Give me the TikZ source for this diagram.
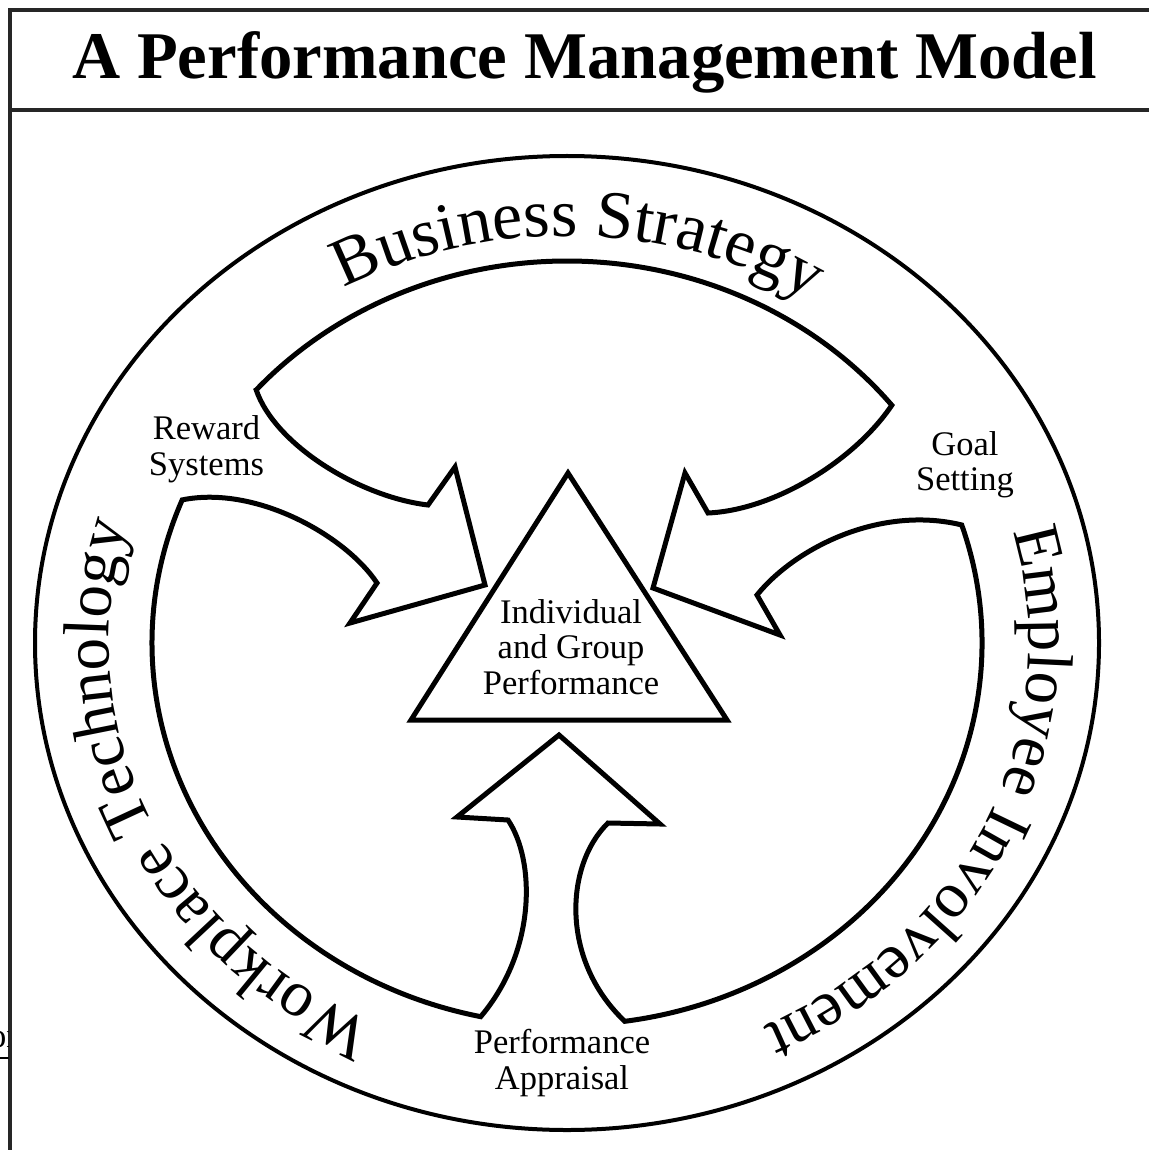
\documentclass[tikz,border=0pt]{standalone}
\usepackage{fontspec}
\setmainfont{Liberation Serif}
\usetikzlibrary{decorations.text}
\newcommand\bigtxt{\fontsize{68}{68}\selectfont}
\newcommand\sidetxt{\fontsize{65}{65}\selectfont}
\newcommand\smalltxt{\fontsize{34.5}{35.5}\selectfont}
\newcommand\titletxt{\fontsize{66.7}{70}\selectfont\bfseries}
\begin{document}
\begin{tikzpicture}[x=1pt,y=-1pt]
\tikzset{
  frameline/.style={line width=3.5pt, draw=black!85},
  ringline/.style={line width=4pt},
  outline/.style={line width=5pt, line join=miter, miter limit=10},
  lbl/.style={font=\smalltxt, align=center, inner sep=0pt},
  curvedtext/.style={decorate, decoration={text along path, text align=center, text={|\bigtxt|#1}}},
  sidetext/.style={decorate, decoration={text along path, text align=center, text={|\sidetxt|#1}}}
}
\useasboundingbox (0,0) rectangle (1148,1150);
% frame
\draw[frameline] (10,1155) -- (10,10) -- (1155,10);
\draw[frameline] (10,110) -- (1155,110);
\node[font=\titletxt, anchor=base, inner sep=0pt] (title) at (584.5,79) {A Performance Management Model};
% outer ring
\draw[ringline] (567,643) ellipse[x radius=532, y radius=487];
% main outline with three inward arrows
\draw[outline]
 (256.2,389.9) .. controls (275,445) and (360,497) .. (428,505)
 -- (455,467) -- (485,585) -- (350,623) -- (377,583)
 .. controls (345,535) and (255,485) .. (182.2,499.9)
 arc[start angle=-158, end angle=-258, x radius=415, y radius=382]
 .. controls (537,950) and (535,860) .. (508,820)
 -- (457,817) -- (559,735) -- (660,824) -- (608,823)
 .. controls (565,865) and (560,960) .. (624.8,1021.3)
 arc[start angle=-278, end angle=-378, x radius=415, y radius=382]
 .. controls (880,505) and (795,548) .. (757,595)
 -- (780,635) -- (653,588) -- (685,473) -- (708,513)
 .. controls (775,510) and (855,460) .. (891.8,405.2)
 arc[start angle=-38.5, end angle=-138.5, x radius=415, y radius=382]
 -- cycle;
% triangle
\draw[outline] (568,473) -- (727,720) -- (411,720) -- cycle;
% curved titles
\path[curvedtext={Business Strategy}] ({567+455*cos(-133.5)},{643+407*sin(-133.5)}) arc[start angle=-133.5, end angle=-43.5, x radius=455, y radius=407];
\path[sidetext={Employee Involvement}] ({567+462*cos(-25.5)},{643+424*sin(-25.5)}) arc[start angle=-25.5, end angle=74.5, x radius=462, y radius=424];
\path[sidetext={Workplace Technology}] ({567+458*cos(-254)},{643+420*sin(-254)}) arc[start angle=-254, end angle=-154, x radius=458, y radius=420];
% labels
\node[lbl] (rwd) at (206.5,449) {Reward\\Systems};
\node[lbl] (goal) at (965,465) {Goal\\Setting};
\node[lbl] (perf) at (562,1063) {Performance\\Appraisal};
\node[lbl] (ipg) at (571,647) {Individual\\and Group\\Performance};
% stray fragment at left edge
\begin{scope}
\clip (0,1020) rectangle (8.5,1065);
\node[font=\smalltxt, anchor=base west, inner sep=0pt] (frag) at (-11,1047) {or};
\draw[line width=2pt] (0,1058) -- (8.5,1058);
\end{scope}
\end{tikzpicture}
\end{document}
